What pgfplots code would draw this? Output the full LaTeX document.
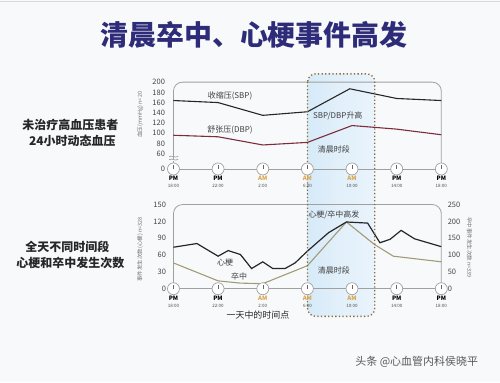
\documentclass[border=0pt]{standalone}
\usepackage{pgfplots}
\pgfplotsset{compat=1.18}
\usepackage{fontspec}
\setmainfont{Noto Sans CJK SC}
\definecolor{bgc}{HTML}{F8F9FB}
\definecolor{titlec}{HTML}{2E2B78}
\definecolor{framec}{HTML}{A0A0A0}
\definecolor{dbpc}{HTML}{7B2D3B}
\definecolor{strokec}{HTML}{A39A78}
\definecolor{dotc}{HTML}{8B6D3C}
\definecolor{amc}{HTML}{D9A44A}
\definecolor{shadec}{HTML}{D6EAF8}
\definecolor{shadel}{HTML}{E9F3FB}
\definecolor{tickc}{HTML}{444444}
\begin{document}
\begin{tikzpicture}
\fill[bgc] (0,0) rectangle (500pt,-383pt);
\draw[black!15, line width=1pt] (0,-2pt) -- (500pt,-2pt);
% shaded morning band
\shade[left color=shadec, right color=shadel, middle color=shadec!70!white, rounded corners=8pt] (307.7pt,-74pt) rectangle (375pt,-317pt);

\pgfplotsset{panel/.style={
  scale only axis, width=268.4pt, clip=false,
  xmin=18, xmax=42, xtick=\empty,
  axis line style={draw=none}, major tick length=0pt,
  yticklabel style={font=\fontsize{7.5}{8}\selectfont, text=tickc},
  /pgf/number format/assume math mode=true,
}}

% ---------- top panel ----------
\begin{axis}[panel, at={(173.3pt,-169.3pt)}, anchor=south west, height=87pt,
  ymin=30, ymax=200, ytick={30,60,80,100,120,140,160,180,200},
  yticklabels={0,60,80,100,120,140,160,180,200}, yticklabel style={xshift=-5pt}]
\draw[framec, line width=0.8pt, rounded corners=9pt] (axis cs:18,50) -- (axis cs:18,200) -- (axis cs:42,200) -- (axis cs:42,30);
\draw[framec, line width=0.8pt] (axis cs:18,30) -- (axis cs:18,46);
\draw[framec, line width=0.8pt] (axis cs:18,30) -- (axis cs:42,30);
\addplot[black!85, line width=1.1pt] coordinates {(18,164) (22,160) (26,135) (30,142) (33.8,187) (38,168) (42,164)};
\addplot[dbpc, line width=1.1pt] coordinates {(18,96) (22,93) (26,77) (30,82) (34,115) (38,108) (42,97)};
\end{axis}
% break marks
\draw[framec, line width=0.7pt] (169pt,-157pt) .. controls (172pt,-155pt) and (175pt,-159pt) .. (178pt,-156.5pt);
\draw[framec, line width=0.7pt] (169pt,-160pt) .. controls (172pt,-158pt) and (175pt,-162pt) .. (178pt,-159.5pt);

% ---------- bottom panel ----------
\begin{axis}[panel, at={(173.3pt,-289.3pt)}, anchor=south west, height=84.3pt,
  ymin=0, ymax=150, ytick={0,30,60,90,120,150}, yticklabel style={xshift=-4pt}]
\draw[framec, line width=0.8pt, rounded corners=9pt] (axis cs:18,0) -- (axis cs:18,150) -- (axis cs:42,150) -- (axis cs:42,0);
\draw[framec, line width=0.8pt] (axis cs:18,0) -- (axis cs:42,0);
\addplot[strokec, line width=1.1pt] coordinates {(18,46) (22,14) (24,10) (26,9) (28,25) (30,41) (33.5,119) (36,79) (37.7,58) (42,48)};
\addplot[black!85, line width=1.2pt] coordinates {(18,74) (20.1,80.6) (22,58) (22.9,68) (24,61) (25,36) (26,48) (26.9,36) (28,36) (28.9,46) (30,67) (31.9,100) (33.5,119) (35.4,117) (36.5,82) (37.4,88) (38.4,104) (39.6,89) (42,75)};
\end{axis}
\begin{axis}[panel, at={(173.3pt,-289.3pt)}, anchor=south west, height=84.3pt,
  ymin=0, ymax=250, ytick={0,50,100,150,200,250}, axis y line*=right,
  yticklabel style={xshift=3pt}]
\addplot[draw=none] coordinates {(18,0)};
\end{axis}

% dotted box
\draw[dotc, line width=1.3pt, dash pattern=on 1.3pt off 2.3pt, rounded corners=8pt] (307.7pt,-74pt) rectangle (375pt,-317pt);

% clocks and time labels
\foreach \x/\ap/\t/\c in {173.3/PM/18:00/black, 218.0/PM/22:00/black, 262.8/AM/2:00/amc, 307.5/AM/6:00/amc, 352.2/AM/10:00/amc, 397.0/PM/14:00/black, 441.7/PM/18:00/black}{
  \foreach \yb in {169.3, 289.3}{
    \draw[framec, fill=white, line width=0.7pt] (\x pt,-\yb pt) circle (6pt);
    \draw[black!60, line width=0.5pt] (\x pt,-\yb pt) -- ++(0,4pt);
    \node[text=\c, font=\fontsize{6}{6}\selectfont\bfseries, inner sep=0] at (\x pt,-\yb pt-9.5pt) {\ap};
    \node[text=black!70, font=\fontsize{4.5}{5}\selectfont, inner sep=0] at (\x pt,-\yb pt-17pt) {\t};
  }
}

% texts
\node[text=titlec, font=\fontsize{28}{30}\selectfont\bfseries] at (254pt,-35pt) {清晨卒中、心梗事件高发};
\node[text=black!85, font=\fontsize{12}{13}\selectfont\bfseries] at (70pt,-125pt) {未治疗高血压患者};
\node[text=black!85, font=\fontsize{12}{13}\selectfont\bfseries] at (72pt,-141pt) {24小时动态血压};
\node[text=black!85, font=\fontsize{12}{13}\selectfont\bfseries] at (67pt,-247pt) {全天不同时间段};
\node[text=black!85, font=\fontsize{12}{13}\selectfont\bfseries] at (70pt,-263pt) {心梗和卒中发生次数};

\node[text=black!75, font=\fontsize{8}{9}\selectfont] at (230pt,-96pt) {收缩压(SBP)};
\node[text=black!75, font=\fontsize{8}{9}\selectfont] at (230pt,-130pt) {舒张压(DBP)};
\node[text=black!75, font=\fontsize{8}{9}\selectfont] at (338pt,-116pt) {SBP/DBP升高};
\node[text=black!75, font=\fontsize{8}{9}\selectfont] at (334pt,-150pt) {清晨时段};
\node[text=black!75, font=\fontsize{8}{9}\selectfont] at (225pt,-263pt) {心梗};
\node[text=black!75, font=\fontsize{8}{9}\selectfont] at (239pt,-277pt) {卒中};
\node[text=black!75, font=\fontsize{8}{9}\selectfont] at (334pt,-215pt) {心梗/卒中高发};
\node[text=black!75, font=\fontsize{8}{9}\selectfont] at (334pt,-271pt) {清晨时段};
\node[text=black!85, font=\fontsize{9}{10}\selectfont] at (258pt,-316pt) {一天中的时间点};

\node[text=black!55, font=\fontsize{5.5}{6}\selectfont, rotate=90] at (140pt,-115pt) {血压(mmHg) n=20};
\node[text=black!55, font=\fontsize{5.5}{6}\selectfont, rotate=90] at (140pt,-250pt) {事件发生次数(心梗) n=328};
\node[text=black!55, font=\fontsize{5.5}{6}\selectfont, rotate=-90] at (470pt,-248pt) {卒中事件发生次数 n=339};

\node[text=black!65, font=\fontsize{11}{12}\selectfont] at (417pt,-363pt) {头条 @心血管内科侯晓平};
\end{tikzpicture}
\end{document}
